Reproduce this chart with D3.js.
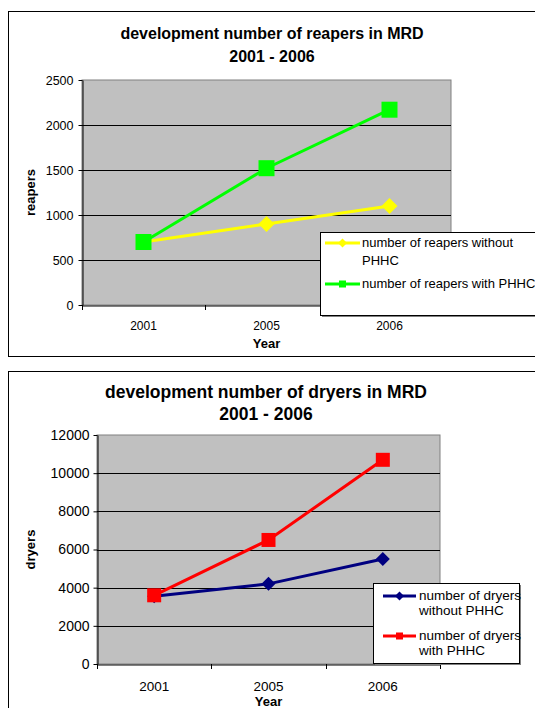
<!DOCTYPE html>
<html><head><meta charset="utf-8">
<script src="https://cdn.jsdelivr.net/npm/d3@7"></script>
<style>body{margin:0;background:#fff}svg{display:block}text{font-family:Arial,"Liberation Sans",sans-serif}</style>
</head><body>
<svg id="c" width="535" height="708"></svg>
<script>
const years = ["2001","2005","2006"];
const reapersWithout = [700, 900, 1100];
const reapersWith = [700, 1520, 2170];
const reaperTicks = [0, 500, 1000, 1500, 2000, 2500];
const dryersWithout = [3550, 4200, 5500];
const dryersWith = [3600, 6500, 10700];
const dryerTicks = [0, 2000, 4000, 6000, 8000, 10000, 12000];

const svg = d3.select("#c");

function chart(cfg){
  const g = svg.append("g");
  g.append("rect").attr("x",cfg.frame[0]+0.5).attr("y",cfg.frame[1]+0.5)
   .attr("width",cfg.frame[2]).attr("height",cfg.frame[3])
   .attr("fill","#fff").attr("stroke","#000");
  cfg.title.forEach((t,i)=>g.append("text").attr("x",cfg.titleX).attr("y",cfg.titleY[i])
    .attr("text-anchor","middle").attr("font-weight","bold").attr("font-size",cfg.titleSize).text(t));
  const x = d3.scaleBand().domain(years).range([cfg.plot[0],cfg.plot[1]]);
  const y = d3.scaleLinear().domain([0,cfg.ticks[cfg.ticks.length-1]]).range([cfg.plot[3],cfg.plot[2]]);
  g.append("rect").attr("x",cfg.plot[0]).attr("y",cfg.plot[2]).attr("width",cfg.plot[1]-cfg.plot[0])
   .attr("height",cfg.plot[3]-cfg.plot[2]).attr("fill","#C0C0C0").attr("stroke","#808080");
  g.selectAll(".grid").data(cfg.ticks.slice(1,-1)).join("line")
   .attr("x1",cfg.plot[0]).attr("x2",cfg.plot[1]).attr("y1",d=>Math.round(y(d))+0.5).attr("y2",d=>Math.round(y(d))+0.5)
   .attr("stroke","#000");
  const ya = g.append("g").attr("transform",`translate(${cfg.plot[0]+0.5},0)`)
   .call(d3.axisLeft(y).tickValues(cfg.ticks).tickFormat(d3.format("d")).tickSize(4).tickSizeOuter(0).tickPadding(cfg.yPad));
  ya.select(".domain").attr("stroke","#000");
  ya.selectAll("text").attr("font-size",cfg.yTickSize).attr("font-family","Arial,'Liberation Sans',sans-serif");
  const xa = g.append("g").attr("transform",`translate(0,${cfg.plot[3]+0.5})`)
   .call(d3.axisBottom(x).tickSize(0).tickPadding(cfg.xPad));
  xa.select(".domain").attr("stroke","#000");
  xa.selectAll("text").attr("font-size",cfg.xTickSize).attr("font-family","Arial,'Liberation Sans',sans-serif");
  const bounds = years.map(d=>x(d)).concat([cfg.plot[1]]);
  g.selectAll(".bt").data(bounds).join("line").attr("x1",d=>Math.round(d)+0.5).attr("x2",d=>Math.round(d)+0.5)
   .attr("y1",cfg.plot[3]).attr("y2",cfg.plot[3]+5).attr("stroke","#000");
  g.append("text").attr("x",(cfg.plot[0]+cfg.plot[1])/2).attr("y",cfg.yearY).attr("text-anchor","middle")
   .attr("font-weight","bold").attr("font-size",cfg.labelSize).text("Year");
  g.append("text").attr("transform",`translate(${cfg.ylabX},${(cfg.plot[2]+cfg.plot[3])/2}) rotate(-90)`)
   .attr("text-anchor","middle").attr("font-weight","bold").attr("font-size",cfg.labelSize).text(cfg.ylabel);
  const line = d3.line().x((d,i)=>x(years[i])+x.bandwidth()/2).y(d=>y(d));
  cfg.series.forEach(s=>{
    g.append("path").datum(s.values).attr("d",line).attr("fill","none").attr("stroke",s.color).attr("stroke-width",3);
  });
  cfg.series.forEach(s=>{
    s.values.forEach((v,i)=>{
      const cx = x(years[i])+x.bandwidth()/2, cy = y(v);
      if(s.shape==="square"){
        g.append("rect").attr("x",cx-s.size/2).attr("y",cy-s.size/2).attr("width",s.size).attr("height",s.size).attr("fill",s.color);
      } else {
        const r = s.size/2;
        g.append("path").attr("d",`M${cx},${cy-r}L${cx+r},${cy}L${cx},${cy+r}L${cx-r},${cy}Z`).attr("fill",s.color);
      }
    });
  });
  const L = cfg.legend;
  g.append("rect").attr("x",L.box[0]+0.5).attr("y",L.box[1]+0.5).attr("width",L.box[2]).attr("height",L.box[3])
   .attr("fill","#fff").attr("stroke","#000");
  g.append("line").attr("x1",L.box[0]+0.5+L.box[2]+1).attr("x2",L.box[0]+0.5+L.box[2]+1)
   .attr("y1",L.box[1]+2).attr("y2",L.box[1]+L.box[3]+2).attr("stroke","#808080");
  g.append("line").attr("x1",L.box[0]+2).attr("x2",L.box[0]+L.box[2]+2)
   .attr("y1",L.box[1]+L.box[3]+1.5).attr("y2",L.box[1]+L.box[3]+1.5).attr("stroke","#808080");
  cfg.series.forEach((s,k)=>{
    const ly = L.rows[k];
    g.append("line").attr("x1",L.lx[0]).attr("x2",L.lx[1]).attr("y1",ly).attr("y2",ly).attr("stroke",s.color).attr("stroke-width",3);
    const cx=(L.lx[0]+L.lx[1])/2, m=L.mark;
    if(s.shape==="square") g.append("rect").attr("x",cx-m/2).attr("y",ly-m/2).attr("width",m).attr("height",m).attr("fill",s.color);
    else g.append("path").attr("d",`M${cx},${ly-m/2-1}L${cx+m/2+1},${ly}L${cx},${ly+m/2+1}L${cx-m/2-1},${ly}Z`).attr("fill",s.color);
    s.label.forEach((t,j)=>g.append("text").attr("x",L.tx).attr("y",ly+4+j*L.lh).attr("font-size",L.size).text(t));
  });
}

chart({
  frame:[8,11,540,345],
  title:["development number of reapers in MRD","2001 - 2006"], titleX:272, titleY:[39,62], titleSize:16,
  plot:[82,451,80,305], ticks:reaperTicks, yTickSize:12.5, yPad:5, xTickSize:12, xPad:16, labelSize:13,
  yearY:348, ylabX:35, ylabel:"reapers",
  series:[
    {values:reapersWithout,color:"#FFFF00",shape:"diamond",size:16,label:["number of reapers without","PHHC"]},
    {values:reapersWith,color:"#00FF00",shape:"square",size:16,label:["number of reapers with PHHC"]}
  ],
  legend:{box:[320,232,220,83],lx:[325,360],tx:362,rows:[243,284],lh:18,mark:7,size:13}
});

chart({
  frame:[8,371,540,345],
  title:["development number of dryers in MRD","2001 - 2006"], titleX:266, titleY:[398,420], titleSize:17.5,
  plot:[97,440,435,664], ticks:dryerTicks, yTickSize:14, yPad:4, xTickSize:13.5, xPad:17, labelSize:13,
  yearY:706, ylabX:35, ylabel:"dryers",
  series:[
    {values:dryersWithout,color:"#000080",shape:"diamond",size:14,label:["number of dryers","without PHHC"]},
    {values:dryersWith,color:"#FF0000",shape:"square",size:14,label:["number of dryers","with PHHC"]}
  ],
  legend:{box:[373,583,146,80],lx:[383,416],tx:419,rows:[596,636],lh:15,mark:7,size:13.5}
});
</script>
</body></html>
